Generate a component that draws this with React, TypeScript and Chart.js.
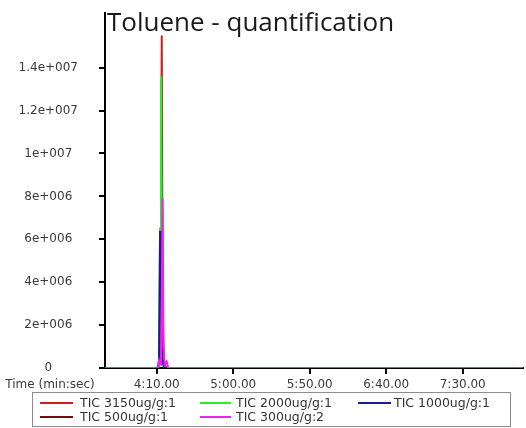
import React, { useEffect, useRef } from "react";
import { Chart, registerables } from "chart.js";

Chart.register(...registerables);

// ---- data (time in seconds, intensity in counts) ----
const TIMES = [216.2, 249, 250.5, 251.5, 252.2, 252.8, 253.3, 253.8, 254.4, 255.2, 256.5, 257.5, 259, 489.4];
const TIC_3150 = [0, 0, 0, 50000, 1000000, 8000000, 15500000, 4000000, 600000, 100000, 0, 0, 0, 0];
const TIC_2000 = [0, 0, 0, 100000, 6500000, 13600000, 7000000, 1500000, 300000, 50000, 0, 0, 0, 0];
const TIC_1000 = [0, 0, 0, 300000, 6400000, 5000000, 2000000, 500000, 100000, 0, 0, 0, 0, 0];
const TIC_500 = [0, 0, 0, 100000, 2000000, 11700000, 10600000, 3000000, 600000, 100000, 0, 0, 0, 0];
const TIC_300 = [0, 0, 0, 350000, 150000, 600000, 3000000, 7900000, 1000000, 150000, 300000, 0, 0, 0];

const SERIES_LABELS = ["TIC 3150ug/g:1", "TIC 2000ug/g:1", "TIC 1000ug/g:1", "TIC 500ug/g:1", "TIC 300ug/g:2"];
const SERIES_VALUES = [TIC_3150, TIC_2000, TIC_1000, TIC_500, TIC_300];
const SERIES_COLORS = ["#cc2020", "#33e633", "#1c1c8c", "#6e0f0f", "#ee22ee"];
const SERIES_ORDER = [4, 2, 1, 3, 0];

const X_MIN = 216.2;
const X_MAX = 489.4;
const X_TICKS = [250, 300, 350, 400, 450];
const X_TICK_LABELS = ["4:10.00", "5:00.00", "5:50.00", "6:40.00", "7:30.00"];
const Y_MAX = 16550000;
const Y_TICKS = [0, 2000000, 4000000, 6000000, 8000000, 10000000, 12000000, 14000000];
const Y_TICK_LABELS = ["0", "2e+006", "4e+006", "6e+006", "8e+006", "1e+007", "1.2e+007", "1.4e+007"];

const TITLE = "Toluene - quantification";
const X_TITLE = "Time (min:sec)";

const TICK_FONT = "DejaVu Sans";

const overlayPlugin = {
  id: "overlayText",
  afterDraw(chart: any) {
    const ctx = chart.ctx;
    const area = chart.chartArea;
    ctx.save();
    ctx.fillStyle = "#1a1a1a";
    ctx.font = '26px "Open Sans"';
    ctx.textAlign = "left";
    ctx.textBaseline = "alphabetic";
    ctx.fillText(TITLE, area.left + 2, 31);
    ctx.fillStyle = "#3a3a3a";
    ctx.font = `12px "${TICK_FONT}"`;
    ctx.textAlign = "center";
    ctx.textBaseline = "middle";
    ctx.fillText(X_TITLE, 50, 385);
    ctx.restore();
  },
};

export default function App() {
  const ref = useRef<HTMLCanvasElement>(null);
  useEffect(() => {
    if (!ref.current) return;
    const datasets = SERIES_LABELS.map((label, i) => ({
      label,
      data: TIMES.map((t, j) => ({ x: t, y: SERIES_VALUES[i][j] })),
      borderColor: SERIES_COLORS[i],
      backgroundColor: SERIES_COLORS[i],
      borderWidth: 2,
      pointRadius: 0,
      tension: 0,
      order: SERIES_ORDER[i],
    }));
    const chart = new Chart(ref.current, {
      type: "line",
      data: { datasets },
      plugins: [overlayPlugin],
      options: {
        animation: false,
        responsive: false,
        maintainAspectRatio: false,
        layout: { padding: { top: 13, right: 3, left: 0, bottom: 0 } },
        plugins: { legend: { display: false }, tooltip: { enabled: false }, title: { display: false } },
        scales: {
          x: {
            type: "linear",
            min: X_MIN,
            max: X_MAX,
            afterBuildTicks: (scale: any) => {
              scale.ticks = X_TICKS.map((v) => ({ value: v }));
            },
            afterFit: (scale: any) => {
              scale.height = 60;
              scale.paddingLeft = 0;
              scale.paddingRight = 0;
            },
            border: { display: true, color: "#000", width: 2 },
            grid: { drawOnChartArea: false, drawTicks: true, tickLength: 6, color: "#000", lineWidth: 2 },
            ticks: {
              autoSkip: false,
              maxRotation: 0,
              padding: 4,
              color: "#3a3a3a",
              font: { family: TICK_FONT, size: 12 },
              callback: (v: any) => {
                const i = X_TICKS.indexOf(Number(v));
                return i >= 0 ? X_TICK_LABELS[i] : "";
              },
            },
          },
          y: {
            type: "linear",
            min: 0,
            max: Y_MAX,
            afterBuildTicks: (scale: any) => {
              scale.ticks = Y_TICKS.map((v) => ({ value: v }));
            },
            afterFit: (scale: any) => {
              scale.width = 105;
              scale.paddingTop = 0;
              scale.paddingBottom = 0;
            },
            border: { display: true, color: "#000", width: 2 },
            grid: { drawOnChartArea: false, drawTicks: true, tickLength: 6, color: "#000", lineWidth: 2 },
            ticks: {
              autoSkip: false,
              crossAlign: "center",
              padding: 21,
              color: "#3a3a3a",
              font: { family: TICK_FONT, size: 12 },
              callback: (v: any) => {
                const i = Y_TICKS.indexOf(Number(v));
                return i >= 0 ? Y_TICK_LABELS[i] : "";
              },
            },
          },
        },
      },
    });
    return () => chart.destroy();
  }, []);

  const legendCols = [
    { lineLeft: 40, lineWidth: 33, textLeft: 80 },
    { lineLeft: 200, lineWidth: 31, textLeft: 236 },
    { lineLeft: 358, lineWidth: 33, textLeft: 394 },
  ];
  const legendRows = [402.5, 416.5];

  return (
    <div style={{ position: "fixed", left: 0, top: 0, width: 526, height: 428, background: "#fff" }}>
      <canvas ref={ref} width={526} height={428} style={{ position: "absolute", left: 0, top: 0, width: 526, height: 428 }} />
      <div
        style={{
          position: "absolute",
          left: 32,
          top: 392,
          width: 479,
          height: 35,
          border: "1px solid #8c8c8c",
          boxSizing: "border-box",
        }}
      />
      {SERIES_LABELS.map((label, i) => {
        const col = legendCols[i % 3];
        const rowY = legendRows[Math.floor(i / 3)];
        return (
          <React.Fragment key={label}>
            <div
              style={{
                position: "absolute",
                left: col.lineLeft,
                top: rowY - 1,
                width: col.lineWidth,
                height: 2,
                background: SERIES_COLORS[i],
              }}
            />
            <div
              style={{
                position: "absolute",
                left: col.textLeft,
                top: rowY - 8,
                height: 16,
                lineHeight: "16px",
                fontFamily: TICK_FONT,
                fontSize: 12.5,
                color: "#333",
                whiteSpace: "nowrap",
              }}
            >
              {label}
            </div>
          </React.Fragment>
        );
      })}
    </div>
  );
}
